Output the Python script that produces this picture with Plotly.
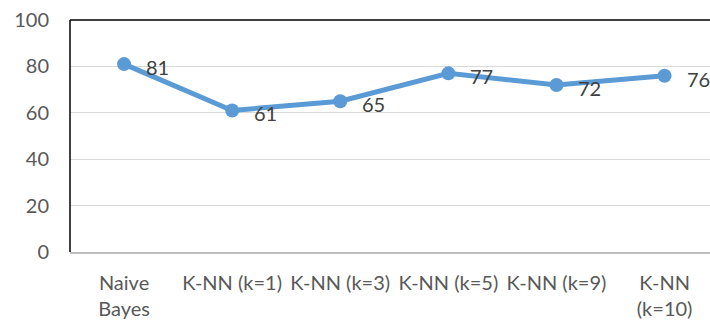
import plotly.graph_objects as go

categories = ["Naive<br>Bayes", "K-NN (k=1)", "K-NN (k=3)", "K-NN (k=5)", "K-NN (k=9)", "K-NN<br>(k=10)"]
values = [81, 61, 65, 77, 72, 76]
y_ticks = [0, 20, 40, 60, 80, 100]

FONT = "Lato"

xs = list(range(len(categories)))

fig = go.Figure()
fig.add_trace(go.Scatter(
    x=xs,
    y=values,
    mode="lines+markers",
    line=dict(color="#5B9BD5", width=5),
    marker=dict(color="#5B9BD5", size=14),
    cliponaxis=False,
    showlegend=False,
))

for xi, v in zip(xs, values):
    fig.add_annotation(
        x=xi, y=v, text=str(v), showarrow=False,
        xanchor="left", yanchor="middle", xshift=20, yshift=-3,
        font=dict(family=FONT, size=20, color="#404040"),
    )

fig.update_layout(
    width=710, height=324,
    margin=dict(l=70, r=0, t=20, b=72),
    paper_bgcolor="white", plot_bgcolor="white",
    font=dict(family=FONT, color="#595959", size=19),
    xaxis=dict(
        tickmode="array",
        tickvals=xs,
        ticktext=categories,
        range=[-0.5, 5.42],
        showgrid=False,
        zeroline=False,
        showline=True, linecolor="#BFBFBF", linewidth=1.5,
        ticks="", ticklabelstandoff=12,
        tickfont=dict(family=FONT, size=20, color="#595959"),
    ),
    yaxis=dict(
        range=[0, 100],
        tickvals=y_ticks,
        showgrid=True, gridcolor="#D9D9D9", gridwidth=1,
        zeroline=False,
        showline=False,
        ticks="", ticklabelstandoff=20,
        tickfont=dict(family=FONT, size=20, color="#595959"),
    ),
    shapes=[
        dict(type="line", xref="paper", yref="paper", x0=0, x1=1, y0=1, y1=1,
             line=dict(color="black", width=1.5)),
        dict(type="line", xref="paper", yref="paper", x0=0, x1=0, y0=0, y1=1,
             line=dict(color="black", width=1.5)),
    ],
)

fig.write_html("out.html")
